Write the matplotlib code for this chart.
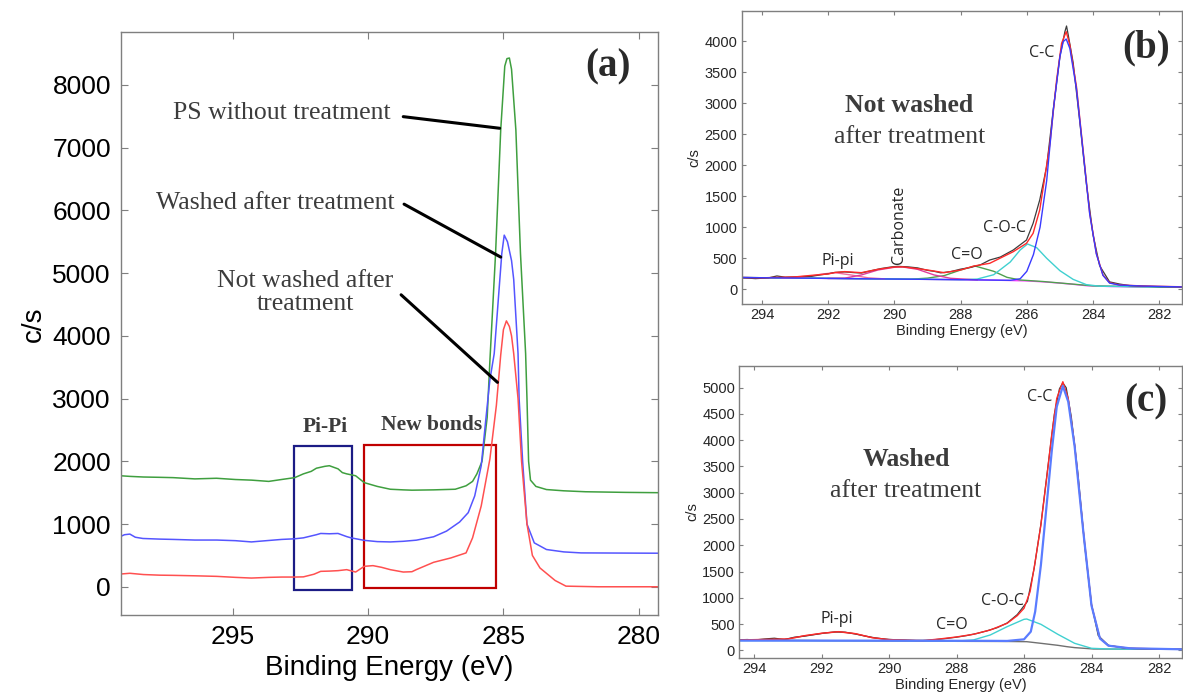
import numpy as np
import matplotlib.pyplot as plt
from matplotlib.patches import Rectangle

plt.rcParams['font.family'] = ['Liberation Sans', 'DejaVu Sans']

# ---------------- (a) C1s spectra of the three samples ----------------
e_ps = [299.15, 298.8, 298.3, 297.7, 297.2, 296.4, 295.6, 294.9, 294.3, 293.67, 293.2, 292.71,
        292.39, 292.1, 291.91, 291.6, 291.43, 291.11, 290.95, 290.79, 290.46, 290.14, 289.66,
        289.18, 288.7, 288.38, 287.58, 286.78, 286.38, 286.14, 285.98, 285.79, 285.6, 285.5,
        285.29, 285.1, 284.95, 284.87, 284.78, 284.7, 284.54, 284.37, 284.18, 284.13, 284.07,
        284.0, 283.8, 283.41, 282.77, 281.97, 280.5, 279.28]
c_ps = [1770, 1760, 1750, 1745, 1740, 1720, 1730, 1710, 1700, 1680, 1710, 1740,
        1800, 1840, 1890, 1920, 1930, 1880, 1820, 1800, 1770, 1660, 1600,
        1555, 1545, 1540, 1545, 1555, 1610, 1680, 1800, 2000, 2700, 3600,
        5314, 7282, 8300, 8420, 8430, 8250, 7282, 5314, 3718, 3000, 2000,
        1700, 1600, 1550, 1530, 1515, 1505, 1500]

e_wash = [299.15, 299.0, 298.8, 298.6, 298.32, 297.7, 297.2, 296.4, 295.59, 294.9, 294.31, 293.9,
          293.19, 292.71, 292.39, 291.91, 291.75, 291.43, 291.11, 290.79, 290.63, 290.14, 289.66,
          289.18, 288.7, 288.22, 287.58, 287.1, 286.62, 286.3, 286.06, 285.82, 285.66, 285.5,
          285.34, 285.06, 284.97, 284.85, 284.7, 284.62, 284.46, 284.42, 284.29, 284.13, 283.86,
          283.41, 282.77, 282.13, 279.28]
c_wash = [800, 830, 840, 790, 770, 760, 755, 745, 745, 735, 715, 730,
          755, 765, 780, 830, 850, 845, 850, 800, 780, 740, 720,
          715, 725, 743, 797, 888, 1032, 1182, 1449, 1930, 2626, 3300,
          3718, 5314, 5606, 5500, 5200, 4900, 3718, 3000, 2000, 1000, 700,
          594, 556, 540, 535]

e_notw = [299.15, 298.8, 298.3, 297.7, 297.2, 296.4, 295.59, 294.9, 294.31, 293.67, 293.19, 292.71,
          292.39, 292.0, 291.75, 291.43, 291.11, 290.79, 290.46, 290.14, 289.82, 289.5, 289.18,
          288.7, 288.38, 288.22, 287.58, 286.94, 286.38, 286.14, 285.82, 285.5, 285.26, 285.1,
          285.0, 284.89, 284.78, 284.7, 284.62, 284.46, 284.33, 284.13, 283.93, 283.65, 283.09,
          282.69, 281.5, 279.28]
c_notw = [203, 215, 195, 185, 182, 175, 166, 150, 139, 150, 155, 155,
          158, 200, 246, 250, 257, 273, 235, 326, 337, 310, 273,
          235, 240, 273, 390, 460, 540, 780, 1289, 2037, 2893, 3695,
          4100, 4239, 4150, 4000, 3718, 3000, 2000, 1000, 500, 300, 100,
          10, 0, 0]

# ---------------- (b) not washed, peak fit ----------------
bg_b_e = [294.62, 292.0, 290.0, 288.0, 287.0, 286.0, 285.5, 285.0, 284.5, 284.2, 283.5, 282.0, 281.28]
bg_b_c = [190, 175, 165, 155, 148, 135, 120, 100, 75, 58, 45, 35, 32]

raw_b_e = [294.62, 294.4, 294.2, 294.0, 293.8, 293.55, 293.3, 293.0, 292.8, 292.5, 292.2, 292.0,
           291.8, 291.5, 291.2, 291.0, 290.7, 290.4, 290.1, 289.9, 289.6, 289.3, 289.0, 288.8,
           288.6, 288.3, 288.0, 287.7, 287.4, 287.12, 286.8, 286.41, 286.01, 285.81, 285.61,
           285.4, 285.2, 285.0, 284.85, 284.8, 284.75, 284.6, 284.4, 284.2, 284.0, 283.8,
           283.5, 283.2, 282.9, 282.5, 282.0, 281.28]
raw_b_c = [185, 180, 172, 178, 185, 215, 195, 200, 205, 210, 235, 250,
           272, 280, 268, 262, 300, 335, 360, 370, 362, 345, 305, 290,
           265, 285, 325, 352, 395, 472, 520, 633, 794, 1063, 1439,
           1980, 2900, 3750, 4150, 4242, 4100, 3650, 2700, 1700, 880, 380,
           120, 85, 60, 50, 42, 38]

env_b_e = [294.62, 294.0, 293.0, 292.5, 292.0, 291.8, 291.5, 291.0, 290.5, 290.0, 289.75, 289.4,
           289.0, 288.5, 288.0, 287.6, 287.12, 286.41, 286.01, 285.81, 285.61, 285.5, 285.3,
           285.1, 284.95, 284.81, 284.7, 284.5, 284.3, 284.1, 283.9, 283.7, 283.5, 283.2,
           282.5, 281.28]
env_b_c = [190, 185, 200, 225, 247, 270, 285, 268, 322, 360, 362, 340,
           311, 268, 311, 375, 419, 606, 741, 902, 1278, 1654, 2352,
           3372, 3962, 4150, 3935, 3264, 2244, 1224, 580, 231, 107, 70,
           54, 40]

cc_b_e = [294.62, 290.0, 288.0, 287.0, 286.5, 286.2, 286.0, 285.8, 285.6, 285.4, 285.2, 285.0,
          284.9, 284.81, 284.7, 284.5, 284.3, 284.1, 283.9, 283.7, 283.5, 283.2, 282.5, 281.28]
cc_b_c = [190, 165, 155, 148, 145, 170, 290, 560, 1000, 1750, 2889, 3748,
          3990, 4032, 3880, 3230, 2220, 1210, 570, 225, 100, 68, 52, 38]

coc_b_e = [294.62, 288.5, 288.0, 287.5, 287.0, 286.5, 286.2, 285.98, 285.7, 285.4, 285.0, 284.6,
           284.2, 283.8, 282.5, 281.28]
coc_b_c = [190, 158, 155, 165, 235, 440, 634, 730, 670, 500, 300, 160,
           75, 50, 40, 32]

co_b_e = [294.62, 289.5, 289.0, 288.5, 288.0, 287.57, 287.0, 286.6, 286.2, 285.5, 284.0, 281.28]
co_b_c = [190, 163, 180, 220, 311, 376, 290, 193, 150, 125, 55, 32]

ca_b_e = [292.0, 291.5, 291.0, 290.5, 290.0, 289.75, 289.3, 288.8, 288.3, 287.5]
ca_b_c = [175, 180, 231, 311, 355, 360, 322, 231, 177, 152]

pp_b_e = [293.4, 293.0, 292.6, 292.2, 291.8, 291.3, 290.8, 290.3]
pp_b_c = [180, 185, 205, 245, 268, 230, 185, 168]

# ---------------- (c) washed, peak fit ----------------
bg_c_e = [294.44, 292.0, 290.0, 288.0, 286.5, 285.92, 285.5, 285.0, 284.73, 284.5, 283.94, 283.0, 281.32]
bg_c_c = [197, 184, 178, 171, 168, 164, 133, 95, 69, 51, 25, 22, 19]

raw_c_e = [294.44, 294.2, 294.0, 293.7, 293.4, 293.1, 292.8, 292.5, 292.2, 291.9, 291.6, 291.3,
           291.0, 290.7, 290.4, 290.1, 289.8, 289.5, 289.2, 288.9, 288.6, 288.3, 288.0, 287.7,
           287.4, 287.1, 286.8, 286.5, 286.2, 285.9, 285.7, 285.5, 285.3, 285.1, 284.95, 284.85,
           284.75, 284.6, 284.4, 284.2, 284.0, 283.8, 283.5, 283.0, 282.5, 282.0, 281.32]
raw_c_c = [200, 205, 195, 215, 230, 205, 250, 270, 300, 330, 350, 345,
           310, 270, 235, 212, 200, 195, 188, 190, 205, 225, 250, 280,
           320, 370, 430, 520, 680, 930, 1560, 2400, 3450, 4500, 4980, 5090,
           5000, 4450, 3350, 1980, 870, 280, 95, 40, 28, 22, 20]

env_c_e = [294.44, 293.0, 292.5, 292.0, 291.5, 291.0, 290.5, 290.0, 289.0, 288.5, 288.0, 287.5,
           287.0, 286.5, 286.2, 286.0, 285.82, 285.67, 285.5, 285.33, 285.18, 285.03, 284.85,
           284.69, 284.5, 284.24, 284.0, 283.75, 283.5, 282.86, 281.32]
env_c_c = [197, 216, 279, 324, 355, 317, 241, 203, 184, 216, 254, 305,
           387, 514, 660, 800, 1117, 1688, 2386, 3274, 4099, 4797, 5114,
           4797, 3909, 2259, 863, 228, 89, 38, 19]

cc_c_e = [294.44, 290.0, 287.0, 286.5, 286.0, 285.8, 285.67, 285.5, 285.33, 285.18, 285.03, 284.85,
          284.69, 284.5, 284.24, 284.0, 283.75, 283.5, 282.86, 281.32]
cc_c_c = [185, 183, 180, 178, 209, 355, 736, 1624, 2766, 3782, 4638, 5032,
          4734, 3880, 2240, 850, 225, 88, 38, 19]

coc_c_e = [294.44, 290.0, 288.0, 287.5, 287.0, 286.5, 286.0, 285.92, 285.5, 285.0, 284.5, 284.0,
           283.5, 282.0, 281.32]
coc_c_c = [185, 183, 175, 197, 292, 450, 590, 596, 495, 305, 133, 38,
           25, 20, 19]

pp_c_e = [293.6, 293.0, 292.5, 292.0, 291.5, 291.0, 290.5, 290.0, 289.5]
pp_c_c = [190, 214, 276, 322, 352, 315, 240, 200, 186]

SERIF = ['Liberation Serif', 'DejaVu Serif']
GREYTXT = '#3c3c3c'


def style_axes(ax, lsize, tlen, pad, spine='#7f7f7f', tcol='black'):
    for s in ax.spines.values():
        s.set_color(spine)
        s.set_linewidth(1.0)
    ax.tick_params(direction='in', top=True, right=True, length=tlen, width=0.8,
                   color=spine, labelsize=lsize, pad=pad, labelcolor=tcol)


fig = plt.figure(figsize=(11.83, 6.93), dpi=100)

# ---------------- panel (a) ----------------
ax = fig.add_axes([0.1020, 0.1121, 0.4542, 0.8413])
ax.plot(e_ps, c_ps, color='#3f9f3f', lw=1.1)
ax.plot(e_wash, c_wash, color='#5555ff', lw=1.1)
ax.plot(e_notw, c_notw, color='#ff5050', lw=1.1)
ax.set_xlim(299.14, 279.29)
ax.set_ylim(-455, 8840)
ax.set_xticks([295, 290, 285, 280])
ax.set_yticks(np.arange(0, 8001, 1000))
style_axes(ax, 19, 5, 7)
ax.set_xlabel('Binding Energy (eV)', fontsize=20, labelpad=4)
ax.set_ylabel('c/s', fontsize=20, labelpad=4)

ax.add_patch(Rectangle((292.74, -54), 290.61 - 292.74, 2250 + 54, fill=False,
                       edgecolor='#1c1c85', lw=1.6))
ax.add_patch(Rectangle((290.16, -27), 285.29 - 290.16, 2261 + 27, fill=False,
                       edgecolor='#c00000', lw=1.6))
ax.text(291.59, 2548, 'Pi-Pi', family=SERIF, weight='bold', fontsize=15.5,
        color=GREYTXT, ha='center', va='center')
ax.text(287.66, 2585, 'New bonds', family=SERIF, weight='bold', fontsize=15.5,
        color=GREYTXT, ha='center', va='center')

ax.text(293.19, 7549, 'PS without treatment', family=SERIF, fontsize=18.5,
        color=GREYTXT, ha='center', va='center')
ax.text(293.43, 6125, 'Washed after treatment', family=SERIF, fontsize=18.5,
        color=GREYTXT, ha='center', va='center')
ax.text(292.31, 4690, 'Not washed after\ntreatment', family=SERIF, fontsize=18.5,
        color=GREYTXT, ha='center', va='center', linespacing=1.1)
for (x0, y0), (x1, y1) in [((288.70, 7495), (285.14, 7310)),
                           ((288.67, 6100), (285.10, 5256)),
                           ((288.78, 4655), (285.22, 3259))]:
    ax.annotate('', xy=(x1, y1), xytext=(x0, y0),
                arrowprops=dict(arrowstyle='-', color='black', lw=2.2,
                                shrinkA=0, shrinkB=0))
ax.text(281.14, 8291, '(a)', family=SERIF, weight='bold', fontsize=28,
        color='#2a2a2a', ha='center', va='center')

# ---------------- panel (b) ----------------
bx = fig.add_axes([0.6268, 0.5613, 0.3724, 0.4228])
bx.plot(bg_b_e, bg_b_c, color='#ff40ff', lw=1.0)
bx.plot(co_b_e, co_b_c, color='#4fa04f', lw=1.0)
bx.plot(coc_b_e, coc_b_c, color='#40d0d0', lw=1.0)
bx.plot(pp_b_e, pp_b_c, color='#f06aa0', lw=1.0)
bx.plot(ca_b_e, ca_b_c, color='#e03c9c', lw=1.0)
bx.plot(raw_b_e, raw_b_c, color='#3c3c3c', lw=0.9)
bx.plot(env_b_e, env_b_c, color='#ff2a2a', lw=1.0)
bx.plot(cc_b_e, cc_b_c, color='#3a3aff', lw=1.0)
bx.set_xlim(294.62, 281.31)
bx.set_ylim(-237, 4483)
bx.set_xticks(np.arange(294, 281, -2))
bx.set_yticks(np.arange(0, 4001, 500))
style_axes(bx, 10.5, 3, 3, tcol='#262626')
bx.set_xlabel('Binding Energy (eV)', fontsize=10.5, labelpad=1, color='#262626')
bx.set_ylabel('c/s', fontsize=10.5, labelpad=2, color='#262626')
pk = dict(family=['Open Sans', 'DejaVu Sans'], fontsize=11.5, color='#262626',
          ha='center', va='center')
bx.text(285.56, 3802, 'C-C', **pk)
bx.text(286.67, 983, 'C-O-C', **pk)
bx.text(287.80, 553, 'C=O', **pk)
bx.text(289.85, 1036, 'Carbonate', rotation=90, **pk)
bx.text(291.71, 461, 'Pi-pi', **pk)
bx.text(289.55, 2969, 'Not washed', family=SERIF, weight='bold', fontsize=18.5,
        color=GREYTXT, ha='center', va='center')
bx.text(289.55, 2459, 'after treatment', family=SERIF, fontsize=18.5,
        color=GREYTXT, ha='center', va='center')
bx.text(282.41, 3883, '(b)', family=SERIF, weight='bold', fontsize=28,
        color='#2a2a2a', ha='center', va='center')

# ---------------- panel (c) ----------------
cx = fig.add_axes([0.6249, 0.0501, 0.3742, 0.4222])
cx.plot(bg_c_e, bg_c_c, color='#707070', lw=1.0)
cx.plot(coc_c_e, coc_c_c, color='#40d0d0', lw=1.0)
cx.plot(pp_c_e, pp_c_c, color='#f06a6a', lw=1.0)
cx.plot(raw_c_e, raw_c_c, color='#3c3c3c', lw=0.9)
cx.plot(env_c_e, env_c_c, color='#ff2a2a', lw=1.0)
cx.plot(cc_c_e, cc_c_c, color='#5a7cff', lw=1.6)
cx.set_xlim(294.44, 281.32)
cx.set_ylim(-152, 5419)
cx.set_xticks(np.arange(294, 281, -2))
cx.set_yticks(np.arange(0, 5001, 500))
style_axes(cx, 10.5, 3, 3, tcol='#262626')
cx.set_xlabel('Binding Energy (eV)', fontsize=10.5, labelpad=1, color='#262626')
cx.set_ylabel('c/s', fontsize=10.5, labelpad=2, color='#262626')
cx.text(285.53, 4829, 'C-C', **pk)
cx.text(286.63, 939, 'C-O-C', **pk)
cx.text(288.14, 482, 'C=O', **pk)
cx.text(291.56, 590, 'Pi-pi', **pk)
cx.text(289.50, 3642, 'Washed', family=SERIF, weight='bold', fontsize=18.5,
        color=GREYTXT, ha='center', va='center')
cx.text(289.50, 3039, 'after treatment', family=SERIF, fontsize=18.5,
        color=GREYTXT, ha='center', va='center')
cx.text(282.39, 4722, '(c)', family=SERIF, weight='bold', fontsize=28,
        color='#2a2a2a', ha='center', va='center')

fig.savefig('out.png', dpi=100)
